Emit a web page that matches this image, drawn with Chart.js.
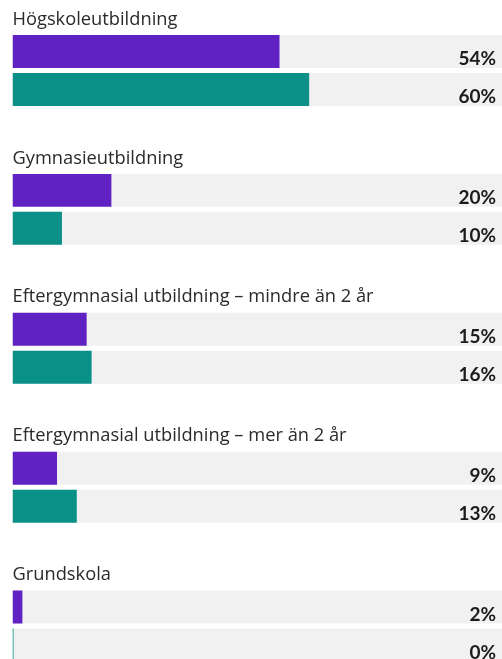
<!DOCTYPE html>
<html>
<head>
<meta charset="utf-8">
<script src="https://cdn.jsdelivr.net/npm/chart.js@4/dist/chart.umd.min.js"></script>
<style>
  html, body { margin: 0; padding: 0; background: #fff; overflow: hidden; }
  #wrap { width: 502px; height: 696px; }
</style>
</head>
<body>
<div id="wrap"><canvas id="c" width="502" height="696"></canvas></div>
<script>
const categories = [
  'Högskoleutbildning',
  'Gymnasieutbildning',
  'Eftergymnasial utbildning – mindre än 2 år',
  'Eftergymnasial utbildning – mer än 2 år',
  'Grundskola'
];
const seriesPurple = [54, 20, 15, 9, 2];
const seriesTeal = [60, 10, 16, 13, 0];
const trackValues = [100, 100, 100, 100, 100];

const PURPLE = '#6022c2';
const TEAL = '#0b9088';
const GREY = '#f1f1f1';

const valueLabels = {
  id: 'valueLabels',
  afterDatasetsDraw(chart) {
    const ctx = chart.ctx;
    const area = chart.chartArea;
    ctx.save();
    ctx.font = 'bold 19px Lato';
    ctx.fillStyle = '#1c1c1c';
    ctx.textAlign = 'right';
    ctx.textBaseline = 'alphabetic';
    [0, 1].forEach(di => {
      const meta = chart.getDatasetMeta(di);
      const vals = chart.data.datasets[di].data;
      meta.data.forEach((bar, j) => {
        ctx.fillText(vals[j] + '%', area.right - 6, bar.y + 13.5);
      });
    });
    ctx.restore();
  }
};

new Chart(document.getElementById('c'), {
  type: 'bar',
  data: {
    labels: categories,
    datasets: [
      { data: seriesPurple, backgroundColor: PURPLE, stack: 'a', borderWidth: 0 },
      { data: seriesTeal, backgroundColor: TEAL, stack: 'b', borderWidth: 0, minBarLength: 1 },
      { data: trackValues, backgroundColor: GREY, stack: 'a', borderWidth: 0 },
      { data: trackValues, backgroundColor: GREY, stack: 'b', borderWidth: 0 }
    ]
  },
  options: {
    indexAxis: 'y',
    responsive: false,
    devicePixelRatio: 1,
    animation: false,
    events: [],
    categoryPercentage: 0.5468,
    barPercentage: 0.868,
    layout: { padding: { left: 12.5, right: 0, top: 1, bottom: 0 } },
    plugins: { legend: { display: false }, tooltip: { enabled: false } },
    scales: {
      x: {
        stacked: false,
        min: 0,
        max: 99,
        display: false
      },
      y: {
        grid: { display: false, drawTicks: false },
        border: { display: false },
        ticks: {
          mirror: true,
          padding: 0,
          labelOffset: -51,
          color: '#2a2a2a',
          font: { family: 'Open Sans', size: 18.3, lineHeight: 0.05 }
        }
      }
    }
  },
  plugins: [valueLabels]
});
</script>
</body>
</html>
